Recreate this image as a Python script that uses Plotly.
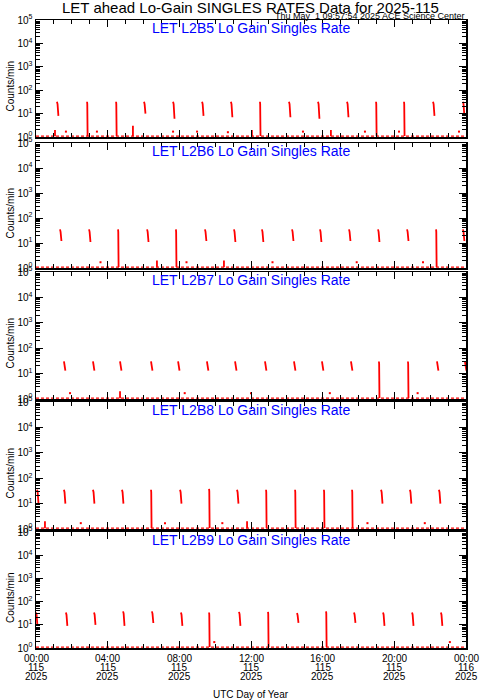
import plotly.graph_objects as go

# ---------------- data (hours of UTC day 115, counts/min) ----------------
panel_titles = ["LET L2B5 Lo Gain Singles Rate", "LET L2B6 Lo Gain Singles Rate",
                "LET L2B7 Lo Gain Singles Rate", "LET L2B8 Lo Gain Singles Rate",
                "LET L2B9 Lo Gain Singles Rate"]

# pulse start times, top value, bottom value (1.1 = falls to baseline)
b5_t = [1.17, 2.85, 4.47, 6.03, 7.65, 9.27, 10.88, 12.50, 14.12, 15.74, 17.36, 18.98, 20.54, 22.16, 23.83]
b5_top = [32, 32, 32, 32, 32, 32, 32, 32, 32, 32, 32, 32, 32, 32, 32]
b5_bot = [8, 1.1, 1.1, 10, 6, 8, 7, 1.1, 7, 6, 7, 1.1, 1.1, 8, 8]
b5_sp_t = [1.06, 5.41, 12.05, 16.46]
b5_sp_v = [2.0, 3.0, 2.0, 2.0]
b5_dot_t = [1.67, 3.40, 7.65, 8.99, 10.71, 14.90, 18.36, 20.26, 23.61]
b5_dot_v = [1.7, 1.7, 1.7, 1.7, 1.6, 1.7, 1.7, 1.7, 1.7]

b6_t = [1.34, 2.96, 4.58, 6.20, 7.81, 9.43, 11.05, 12.61, 14.29, 15.85, 17.47, 19.09, 20.71, 22.33, 23.83]
b6_top = [35, 35, 35, 35, 35, 35, 35, 35, 35, 35, 35, 35, 35, 35, 35]
b6_bot = [12, 11, 1.1, 11, 1.1, 12, 11, 11, 12, 11, 12, 11, 12, 1.1, 12]
b6_sp_t = [6.75, 10.49]
b6_sp_v = [2.0, 2.0]
b6_dot_t = [3.6, 8.4, 13.2, 17.9, 21.6]
b6_dot_v = [1.7, 1.7, 1.7, 1.7, 1.7]

b7_t = [1.56, 3.18, 4.69, 6.42, 7.93, 9.54, 11.11, 12.78, 14.40, 15.96, 17.58, 19.14, 20.76, 22.38, 23.94]
b7_top = [30, 30, 30, 30, 30, 30, 30, 30, 30, 30, 30, 30, 30, 30, 30]
b7_bot = [13, 13, 13, 13, 13, 13, 13, 13, 13, 13, 13, 1.1, 1.1, 13, 13]
b7_sp_t = [4.69]
b7_sp_v = [2.0]
b7_dot_t = [1.9, 8.3, 12.0, 16.4, 21.3]
b7_dot_v = [1.7, 1.7, 1.7, 1.7, 1.7]

b8_t = [0.06, 1.56, 3.18, 4.80, 6.42, 8.04, 9.66, 11.22, 12.84, 14.46, 16.07, 17.64, 19.26, 20.87, 22.49]
b8_top = [35, 35, 35, 35, 35, 35, 38, 35, 35, 35, 35, 35, 35, 35, 35]
b8_bot = [10, 10, 10, 10, 1.1, 10, 1.1, 10, 1.1, 1.1, 1.1, 1.1, 10, 10, 10]
b8_sp_t = [0.50, 11.78]
b8_sp_v = [2.0, 2.0]
b8_dot_t = [2.5, 7.2, 10.4, 18.5, 21.7]
b8_dot_v = [1.7, 1.7, 1.7, 1.7, 1.7]

b9_t = [0.00, 1.67, 3.24, 4.86, 6.47, 8.09, 9.66, 11.33, 12.95, 14.57, 16.19, 17.75, 19.37, 20.99, 22.60]
b9_top = [34, 34, 34, 38, 38, 34, 34, 36, 36, 32, 38, 34, 34, 34, 34]
b9_bot = [9, 9, 10, 9, 12, 9, 1.1, 9, 1.1, 12, 1.1, 12, 9, 9, 9]
b9_sp_t = []
b9_sp_v = []
b9_dot_t = [9.95, 23.1]
b9_dot_v = [1.8, 1.8]

baseline_v = 1.08

panels = [
    (b5_t, b5_top, b5_bot, b5_sp_t, b5_sp_v, b5_dot_t, b5_dot_v),
    (b6_t, b6_top, b6_bot, b6_sp_t, b6_sp_v, b6_dot_t, b6_dot_v),
    (b7_t, b7_top, b7_bot, b7_sp_t, b7_sp_v, b7_dot_t, b7_dot_v),
    (b8_t, b8_top, b8_bot, b8_sp_t, b8_sp_v, b8_dot_t, b8_dot_v),
    (b9_t, b9_top, b9_bot, b9_sp_t, b9_sp_v, b9_dot_t, b9_dot_v),
]

x_tick_hours = [0, 4, 8, 12, 16, 20, 24]
x_tick_time = ["00:00", "04:00", "08:00", "12:00", "16:00", "20:00", "00:00"]
x_tick_day = ["115", "115", "115", "115", "115", "115", "116"]
x_tick_year = ["2025", "2025", "2025", "2025", "2025", "2025", "2025"]
y_tick_vals = [1, 10, 100, 1000, 10000, 100000]
y_tick_text = ["10<sup>%d</sup>" % i for i in range(6)]

# ---------------- layout geometry (pixels) ----------------
W, H = 481, 700
L, R, T, B = 36, 466, 20, 648
panel_px = [(20, 137), (143, 268), (272, 399), (402, 529), (532, 648)]
plot_h = B - T


def py2paper(py):
    return (B - py) / plot_h


def px2paper(px):
    return (px - L) / (R - L)


fig = go.Figure()
RED = "#ff0000"
FONT = "Liberation Sans, Arial, sans-serif"

for i, (pt, ptop, pbot, st, sv, dt, dv) in enumerate(panels):
    n = i + 1
    xa = "x" if n == 1 else "x%d" % n
    ya = "y" if n == 1 else "y%d" % n
    # baseline
    fig.add_trace(go.Scatter(x=[0, 24], y=[baseline_v, baseline_v], mode="lines",
                             line=dict(color=RED, width=1.2, dash="3px,2px"),
                             xaxis=xa, yaxis=ya, showlegend=False, hoverinfo="skip"))
    # pulses
    xs, ys = [], []
    for t, a, b in zip(pt, ptop, pbot):
        dur = 0.03 if b < 2 else 0.08
        xs += [t, t + dur * 0.4, t + dur, None]
        ys += [a, a * 0.8, b, None]
    for t, v in zip(st, sv):
        xs += [t, t, None]
        ys += [v, baseline_v, None]
    fig.add_trace(go.Scatter(x=xs, y=ys, mode="lines", line=dict(color=RED, width=1.8),
                             xaxis=xa, yaxis=ya, showlegend=False, hoverinfo="skip"))
    # isolated points
    fig.add_trace(go.Scatter(x=dt, y=dv, mode="markers",
                             marker=dict(color=RED, size=2, symbol="square", line=dict(width=0)),
                             xaxis=xa, yaxis=ya, showlegend=False, hoverinfo="skip"))

    top_px, bot_px = panel_px[i]
    dom = [max(0, py2paper(bot_px)), min(1, py2paper(top_px))]
    xaxis = dict(range=[0, 24], domain=[0, 1], anchor=ya, showline=True, linecolor="black",
                 linewidth=1.5, mirror="ticks", ticks="inside", ticklen=7, tickwidth=1,
                 tickcolor="black", tickvals=x_tick_hours, showticklabels=False,
                 showgrid=False, zeroline=False, automargin=False,
                 minor=dict(ticks="inside", ticklen=4, dtick=1, tickcolor="black", showgrid=False))
    yaxis = dict(type="log", range=[0, 5], domain=dom, anchor=xa, showline=True,
                 linecolor="black", linewidth=1.5, mirror="ticks", ticks="inside",
                 ticklen=7, tickwidth=1, tickcolor="black", tickvals=y_tick_vals,
                 ticktext=y_tick_text, showgrid=False, zeroline=False, automargin=False,
                 tickfont=dict(family=FONT, size=10, color="black"),
                 minor=dict(ticks="inside", ticklen=4, dtick="D1", tickcolor="black", showgrid=False))
    fig.update_layout(**{("xaxis" if n == 1 else "xaxis%d" % n): xaxis,
                         ("yaxis" if n == 1 else "yaxis%d" % n): yaxis})
    # panel title
    fig.add_annotation(text=panel_titles[i], xref="paper", yref="paper", x=px2paper(251),
                       y=py2paper(top_px + 8), xanchor="center", yanchor="middle",
                       showarrow=False, font=dict(family=FONT, size=14, color="#0000ff"))
    # y title
    fig.add_annotation(text="Counts/min", xref="paper", yref="paper",
                       x=px2paper(10), y=py2paper((top_px + bot_px) / 2 + 8),
                       xanchor="center", yanchor="middle", textangle=-90, showarrow=False,
                       font=dict(family=FONT, size=10, color="black"))

# bottom tick labels (three rows)
for h, a, b, c in zip(x_tick_hours, x_tick_time, x_tick_day, x_tick_year):
    for txt, pyc in ((a, 658.5), (b, 667.5), (c, 676.5)):
        fig.add_annotation(text=txt, xref="x5", yref="paper", x=h, y=py2paper(pyc),
                           xanchor="center", yanchor="middle", showarrow=False,
                           font=dict(family=FONT, size=10, color="black"))

fig.add_annotation(text="UTC Day of Year", xref="paper", yref="paper", x=px2paper(251),
                   y=py2paper(694), xanchor="center", yanchor="middle", showarrow=False,
                   font=dict(family=FONT, size=10, color="black"))
fig.add_annotation(text="LET ahead Lo-Gain SINGLES RATES Data for 2025-115", xref="paper",
                   yref="paper", x=px2paper(250), y=py2paper(7.5), xanchor="center",
                   yanchor="middle", showarrow=False,
                   font=dict(family=FONT, size=15, color="black"))
fig.add_annotation(text="Thu May  1 09:57:54 2025 ACE Science Center", xref="paper",
                   yref="paper", x=px2paper(467), y=py2paper(16.5), xanchor="right",
                   yanchor="middle", showarrow=False,
                   font=dict(family=FONT, size=9, color="black"))

fig.update_layout(width=W, height=H, margin=dict(l=L, r=W - R, t=T, b=H - B, autoexpand=False),
                  paper_bgcolor="white", plot_bgcolor="white", showlegend=False)

# remove the default 8px page margin so the figure sits at the window's corner
fig.write_html("out.html", config={"displayModeBar": False, "staticPlot": True},
               post_script="document.body.style.margin='0px';")
